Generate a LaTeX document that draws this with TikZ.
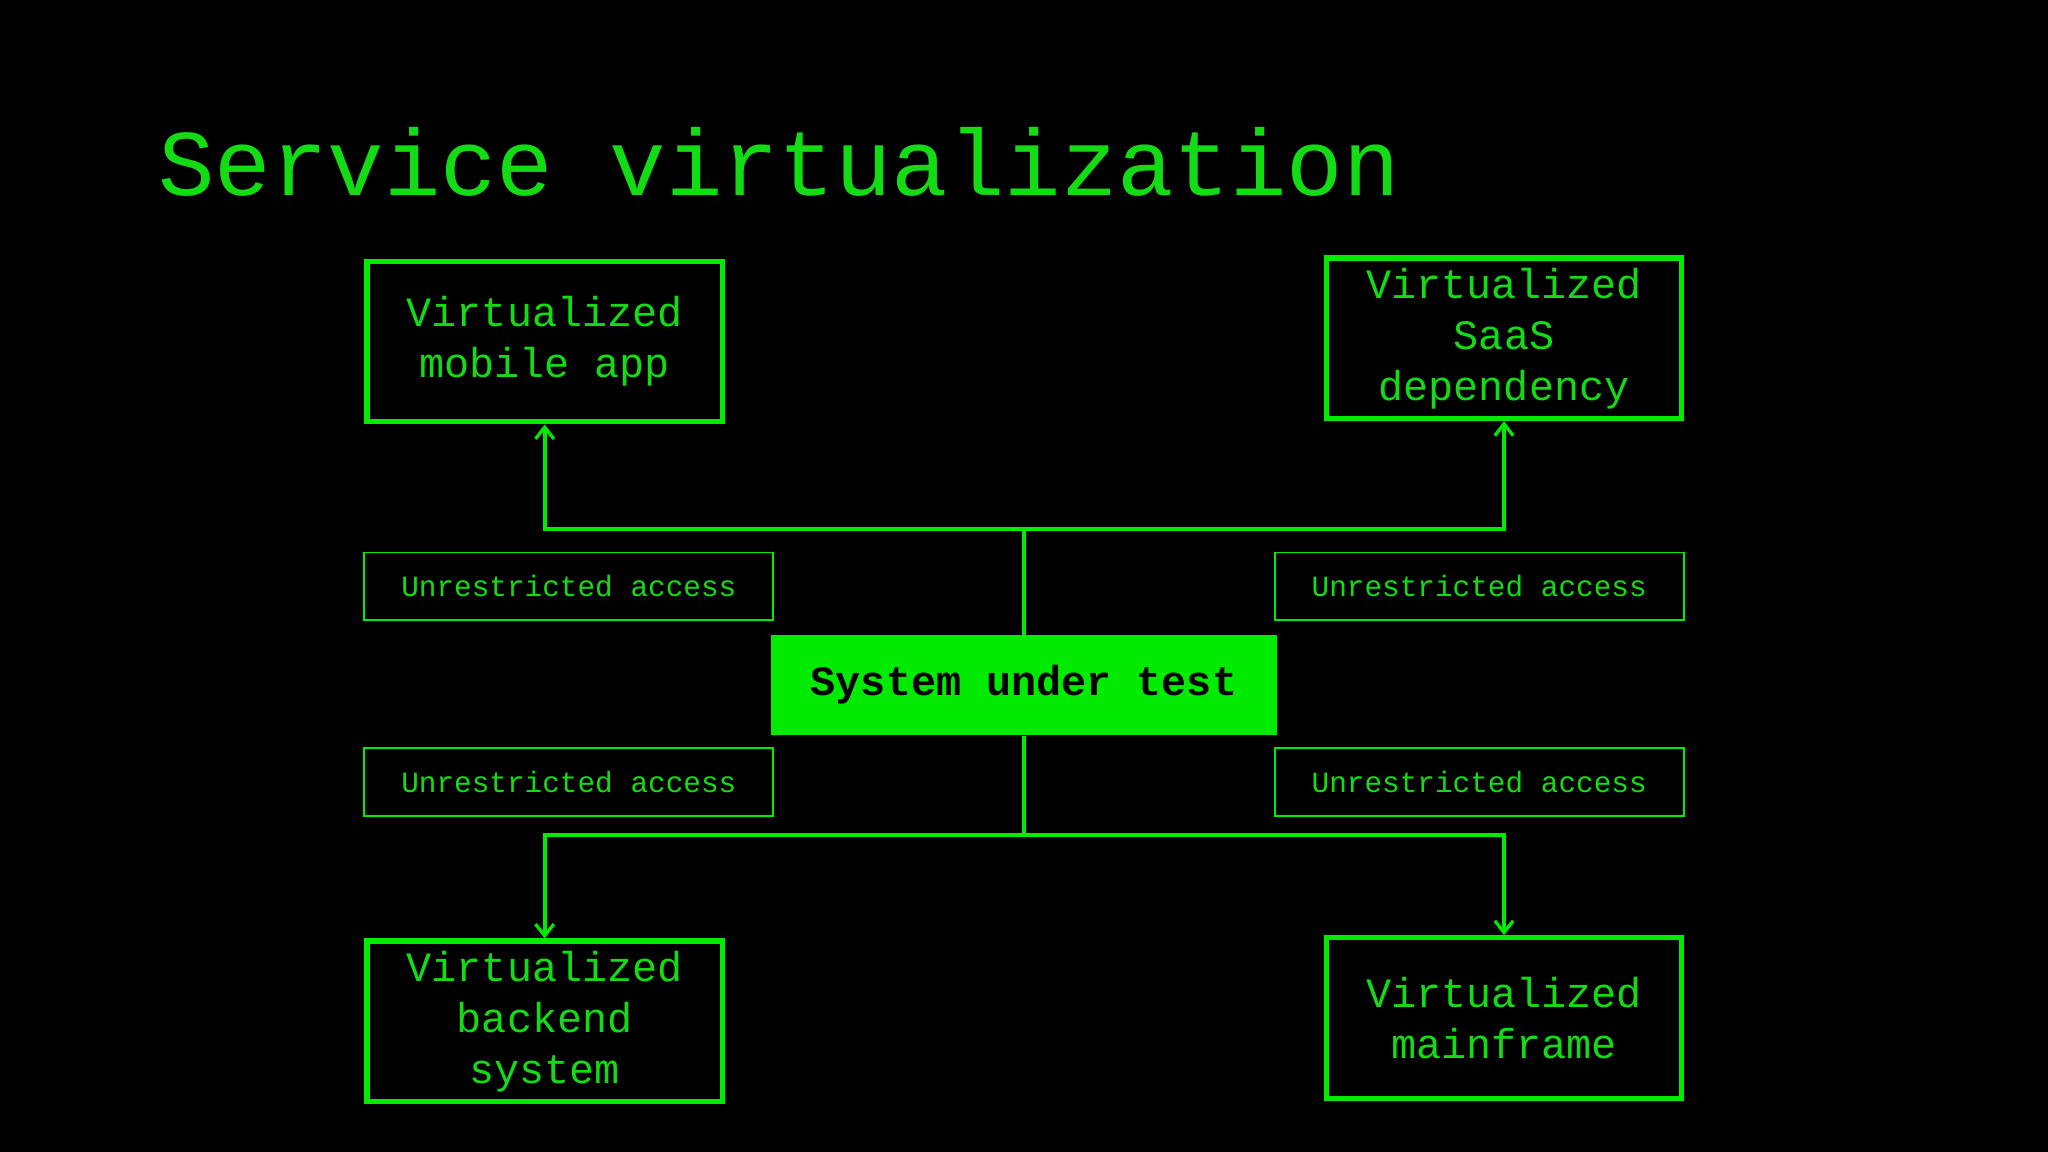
\documentclass[tikz,border=0pt]{standalone}
\usepackage{fontspec}
\setmonofont{Liberation Mono}
\usetikzlibrary{arrows.meta}
\definecolor{gr}{RGB}{0,235,0}
\definecolor{grt}{RGB}{20,220,20}
\begin{document}
\begin{tikzpicture}[x=1pt,y=-1pt,
 vbox/.style={draw=gr,line width=4pt,minimum width=272pt,minimum height=123pt,align=center,text=grt,font=\ttfamily\fontsize{32}{39}\selectfont,inner sep=0pt},
 lab/.style={draw=gr,line width=1.5pt,minimum width=313pt,minimum height=52pt,text=grt,font=\ttfamily\fontsize{22.5}{27}\selectfont,inner sep=0pt},
 conn/.style={draw=gr,line width=3pt},
 arr/.style={conn,-{Straight Barb[length=9pt,width=14pt,line width=2.5pt]}}]
\fill[black] (0,0) rectangle (1568,882);
\useasboundingbox (0,0) rectangle (1568,882);
\node[anchor=base west,text=grt,font=\ttfamily\fontsize{72}{80}\selectfont,inner sep=0pt] (title) at (121,150) {Service virtualization};
\node[vbox] (mob) at (417,261.5) {Virtualized\\mobile app};
\node[vbox] (saas) at (1151.5,259) {Virtualized\\SaaS\\dependency};
\node[vbox] (back) at (417,782) {Virtualized\\backend\\system};
\node[vbox] (main) at (1151.5,779.5) {Virtualized\\mainframe};
\node[fill=gr,minimum width=388pt,minimum height=77pt,inner sep=0pt,font=\ttfamily\bfseries\fontsize{32}{39}\selectfont,text=black] (sut) at (784,524.5) {System under test};
\node[lab] (l1) at (435.5,449) {Unrestricted access};
\node[lab] (l2) at (1132.5,449) {Unrestricted access};
\node[lab] (l3) at (435.5,599) {Unrestricted access};
\node[lab] (l4) at (1132.5,599) {Unrestricted access};
\coordinate (jt) at (784,405);
\coordinate (jb) at (784,639);
\draw[conn] (sut.north) -- (jt);
\draw[arr] (jt) -| (mob.south);
\draw[arr] (jt) -| (saas.south);
\draw[conn] (sut.south) -- (jb);
\draw[arr] (jb) -| (back.north);
\draw[arr] (jb) -| (main.north);
\end{tikzpicture}
\end{document}
